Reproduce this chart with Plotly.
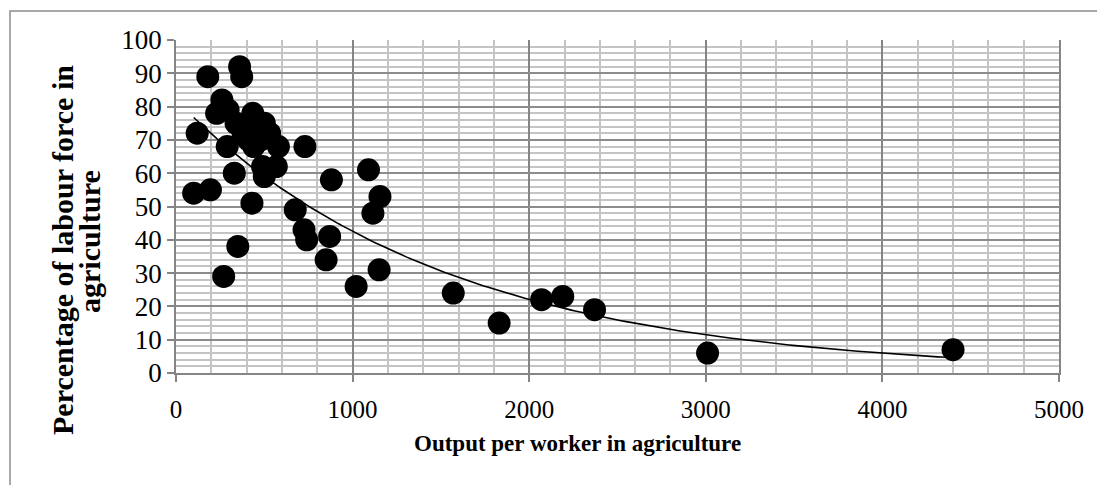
import numpy as np
import plotly.graph_objects as go

# Output per worker in agriculture (x) and percentage of labour force in agriculture (y)
output_per_worker = [100, 195, 120, 180, 360, 372, 260, 230, 295, 290, 435, 500, 530, 380,
                     440, 580, 730, 330, 500, 568, 490, 430, 675, 725, 740, 870, 880, 1090,
                     1155, 1115, 350, 270, 850, 1020, 1150, 1570, 1830, 2070, 2190, 2370,
                     3010, 4400, 460, 410, 340, 480]
labour_share = [54, 55, 72, 89, 92, 89, 82, 78, 79, 68, 78, 75, 72, 72,
                68, 68, 68, 60, 59, 62, 62, 51, 49, 43, 40, 41, 58, 61,
                53, 48, 38, 29, 34, 26, 31, 24, 15, 22, 23, 19,
                6, 7, 72, 70, 75, 70]

x_ticks = [0, 1000, 2000, 3000, 4000, 5000]
y_ticks = [0, 10, 20, 30, 40, 50, 60, 70, 80, 90, 100]

x_title = "Output per worker in agriculture"
y_title_lines = ["Percentage of labour force in", "agriculture"]

# exponential trendline (least squares on log y), like a spreadsheet trendline
xs = np.array(output_per_worker, dtype=float)
ys = np.array(labour_share, dtype=float)
b, ln_a = np.polyfit(xs, np.log(ys), 1)
trend_x = np.linspace(xs.min(), xs.max(), 200)
trend_y = np.exp(ln_a) * np.exp(b * trend_x)

serif = "Liberation Serif"

# page has an 8px body margin, so the figure is laid out in its own coordinates
OFF = 8
W, H = 1097, 477
L, R, T, B = 176 - OFF, W - (1059 - OFF), 40 - OFF, H - (373 - OFF)
PW, PH = W - L - R, H - T - B


def px_x(px):
    return (px - OFF - L) / PW


def px_y(py):
    return (H - B - (py - OFF)) / PH


fig = go.Figure()
fig.add_trace(go.Scatter(x=trend_x, y=trend_y, mode="lines",
                         line=dict(color="black", width=1.6), hoverinfo="skip",
                         showlegend=False))
fig.add_trace(go.Scatter(x=output_per_worker, y=labour_share, mode="markers",
                         marker=dict(color="black", size=23, line=dict(width=0)),
                         showlegend=False))

fig.update_layout(
    width=W, height=H,
    margin=dict(l=L, r=R, t=T, b=B, autoexpand=False),
    paper_bgcolor="white", plot_bgcolor="white",
    font=dict(family=serif, color="black"),
    xaxis=dict(range=[0, 5000], tickvals=x_ticks, ticktext=[str(v) for v in x_ticks],
               automargin=False,
               showgrid=True, gridcolor="#858585", gridwidth=1.5,
               minor=dict(dtick=200, showgrid=True, gridcolor="#c4c4c4", gridwidth=1.5),
               ticks="outside", ticklen=7, tickcolor="#858585", tickwidth=1.5,
               showline=True, linecolor="#858585", linewidth=1.5,
               tickfont=dict(size=25, family="Times New Roman"), ticklabelstandoff=6,
               zeroline=False),
    yaxis=dict(range=[0, 100], tickvals=y_ticks, ticktext=[str(v) for v in y_ticks],
               automargin=False,
               showgrid=True, gridcolor="#8c8c8c", gridwidth=1.5,
               minor=dict(dtick=2, showgrid=True, gridcolor="#c4c4c4", gridwidth=1.5),
               ticks="outside", ticklen=7, tickcolor="#858585", tickwidth=1.5,
               showline=True, linecolor="#858585", linewidth=1.5, mirror=True,
               tickfont=dict(size=27, family="Times New Roman"), zeroline=False),
    shapes=[dict(type="rect", xref="paper", yref="paper",
                 x0=px_x(10), x1=px_x(1112), y0=px_y(492), y1=px_y(11),
                 line=dict(color="#8c8c8c", width=1.5), layer="below")],
    annotations=[
        dict(text=f"<b>{x_title}</b>", xref="paper", yref="paper",
             x=px_x(577), y=px_y(443), showarrow=False,
             font=dict(size=23, family=serif), xanchor="center", yanchor="middle"),
        dict(text=f"<b>{y_title_lines[0]}</b>", xref="paper", yref="paper",
             x=px_x(62), y=px_y(250), textangle=-90, showarrow=False,
             font=dict(size=30, family=serif), xanchor="center", yanchor="middle"),
        dict(text=f"<b>{y_title_lines[1]}</b>", xref="paper", yref="paper",
             x=px_x(89), y=px_y(242), textangle=-90, showarrow=False,
             font=dict(size=30, family=serif), xanchor="center", yanchor="middle"),
    ],
)

fig.write_html("out.html")
